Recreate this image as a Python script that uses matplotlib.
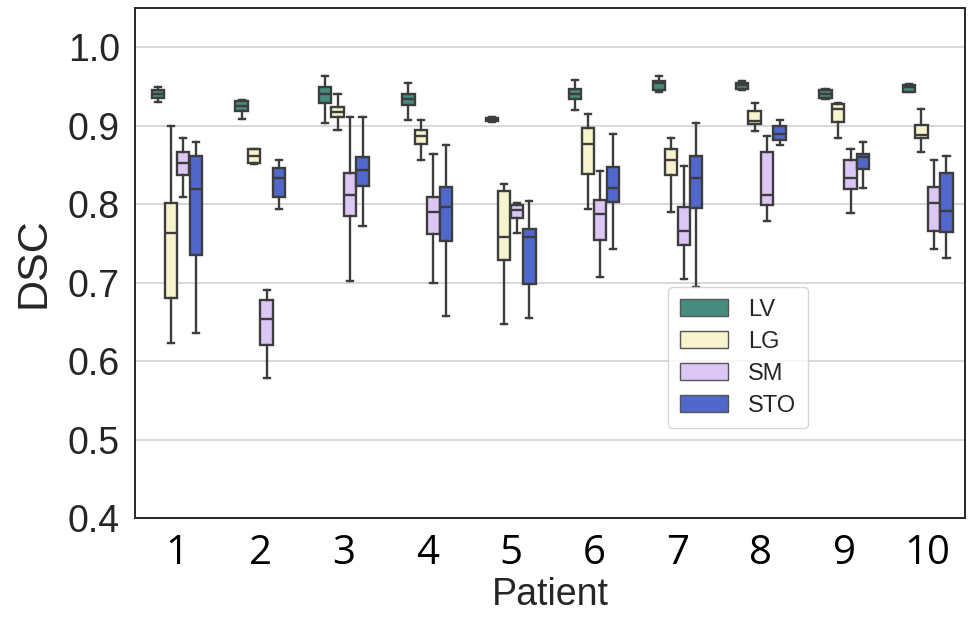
import matplotlib
matplotlib.use('Agg')
import matplotlib.pyplot as plt
from matplotlib.patches import Patch

patients = ['1', '2', '3', '4', '5', '6', '7', '8', '9', '10']
organs = ['LV', 'LG', 'SM', 'STO']
colors = ['#468c7e', '#f7f3cc', '#dcc6f5', '#5068cc']

# box statistics, one list per organ (patients 1..10)
lv_whislo = [0.930, 0.909, 0.903, 0.908, 0.905, 0.920, 0.943, 0.946, 0.934, 0.943]
lv_q1 = [0.936, 0.919, 0.929, 0.926, 0.906, 0.934, 0.946, 0.947, 0.935, 0.943]
lv_med = [0.941, 0.925, 0.941, 0.934, 0.908, 0.940, 0.954, 0.952, 0.940, 0.949]
lv_q3 = [0.946, 0.932, 0.949, 0.940, 0.910, 0.947, 0.957, 0.955, 0.946, 0.952]
lv_whishi = [0.950, 0.933, 0.963, 0.955, 0.911, 0.958, 0.963, 0.957, 0.947, 0.953]

lg_whislo = [0.623, 0.851, 0.895, 0.857, 0.647, 0.794, 0.790, 0.894, 0.885, 0.866]
lg_q1 = [0.680, 0.853, 0.911, 0.877, 0.729, 0.838, 0.837, 0.902, 0.905, 0.884]
lg_med = [0.763, 0.861, 0.918, 0.887, 0.758, 0.877, 0.856, 0.906, 0.922, 0.888]
lg_q3 = [0.801, 0.870, 0.924, 0.895, 0.817, 0.897, 0.871, 0.919, 0.928, 0.901]
lg_whishi = [0.900, 0.870, 0.940, 0.908, 0.826, 0.915, 0.885, 0.929, 0.929, 0.921]

sm_whislo = [0.809, 0.579, 0.702, 0.700, 0.763, 0.707, 0.705, 0.779, 0.789, 0.743]
sm_q1 = [0.837, 0.621, 0.785, 0.762, 0.782, 0.755, 0.748, 0.799, 0.820, 0.766]
sm_med = [0.853, 0.654, 0.812, 0.790, 0.793, 0.787, 0.766, 0.812, 0.834, 0.802]
sm_q3 = [0.866, 0.678, 0.840, 0.809, 0.799, 0.806, 0.796, 0.866, 0.856, 0.822]
sm_whishi = [0.884, 0.691, 0.911, 0.864, 0.802, 0.843, 0.849, 0.887, 0.870, 0.857]

sto_whislo = [0.636, 0.794, 0.772, 0.657, 0.655, 0.743, 0.695, 0.875, 0.821, 0.731]
sto_q1 = [0.735, 0.809, 0.823, 0.753, 0.699, 0.803, 0.795, 0.882, 0.845, 0.765]
sto_med = [0.820, 0.833, 0.844, 0.797, 0.758, 0.821, 0.834, 0.889, 0.860, 0.791]
sto_q3 = [0.861, 0.846, 0.860, 0.822, 0.769, 0.848, 0.861, 0.900, 0.864, 0.840]
sto_whishi = [0.880, 0.856, 0.911, 0.876, 0.804, 0.889, 0.904, 0.908, 0.880, 0.862]

stats = {
    'LV': (lv_whislo, lv_q1, lv_med, lv_q3, lv_whishi),
    'LG': (lg_whislo, lg_q1, lg_med, lg_q3, lg_whishi),
    'SM': (sm_whislo, sm_q1, sm_med, sm_q3, sm_whishi),
    'STO': (sto_whislo, sto_q1, sto_med, sto_q3, sto_whishi),
}

fig = plt.figure(figsize=(9.73, 6.25), dpi=100)
ax = fig.add_axes([0.139, 0.171, 0.853, 0.816])

width = 0.6
box_w = width / len(organs)
edge = '#3d3d3d'

for j, organ in enumerate(organs):
    wlo, q1, med, q3, whi = stats[organ]
    bxp_stats = []
    for i in range(len(patients)):
        bxp_stats.append({'whislo': wlo[i], 'q1': q1[i], 'med': med[i],
                          'q3': q3[i], 'whishi': whi[i], 'fliers': []})
    pos = [i + (j - 1.5) * box_w for i in range(len(patients))]
    ax.bxp(bxp_stats, positions=pos, widths=box_w * 0.98, patch_artist=True,
           showfliers=False, manage_ticks=False,
           boxprops=dict(facecolor=colors[j], edgecolor=edge, linewidth=1.7),
           medianprops=dict(color=edge, linewidth=1.7),
           whiskerprops=dict(color=edge, linewidth=1.7),
           capprops=dict(color=edge, linewidth=1.7))

ax.set_xlim(-0.5, 9.45)
ax.set_ylim(0.4, 1.05)
ax.set_yticks([0.4, 0.5, 0.6, 0.7, 0.8, 0.9, 1.0])
ax.set_yticklabels(['0.4', '0.5', '0.6', '0.7', '0.8', '0.9', '1.0'],
                   fontsize=27, family=['Liberation Sans', 'DejaVu Sans'], color='#262626')
ax.set_xticks(range(len(patients)))
ax.set_xticklabels(patients, fontsize=29,
                   family=['Liberation Sans Narrow', 'Open Sans', 'DejaVu Sans'], color='black')
ax.tick_params(axis='both', length=0, pad=11)
ax.yaxis.grid(True, color='#d5d5d5', linewidth=1.3)
ax.set_axisbelow(True)
for s in ax.spines.values():
    s.set_color('#262626')
    s.set_linewidth(1.4)

ax.set_ylabel('DSC', fontsize=31, family=['Liberation Sans', 'DejaVu Sans'], color='#262626', labelpad=10)
ax.set_xlabel('Patient', fontsize=27, family=['Liberation Sans', 'DejaVu Sans'], color='#262626', labelpad=2)

handles = [Patch(facecolor=colors[k], edgecolor='#555555', label=organs[k]) for k in range(len(organs))]
leg = ax.legend(handles=handles, loc='lower left', bbox_to_anchor=(0.642, 0.176),
                borderaxespad=0,
                prop={'family': ['Liberation Sans', 'DejaVu Sans'], 'size': 17},
                handlelength=2.05, handleheight=0.72, labelspacing=0.42,
                handletextpad=0.85, borderpad=0.5, frameon=True, fancybox=True)
leg.get_frame().set_edgecolor('#cccccc')
for t in leg.get_texts():
    t.set_color('#262626')

fig.savefig('out.png', dpi=100)
